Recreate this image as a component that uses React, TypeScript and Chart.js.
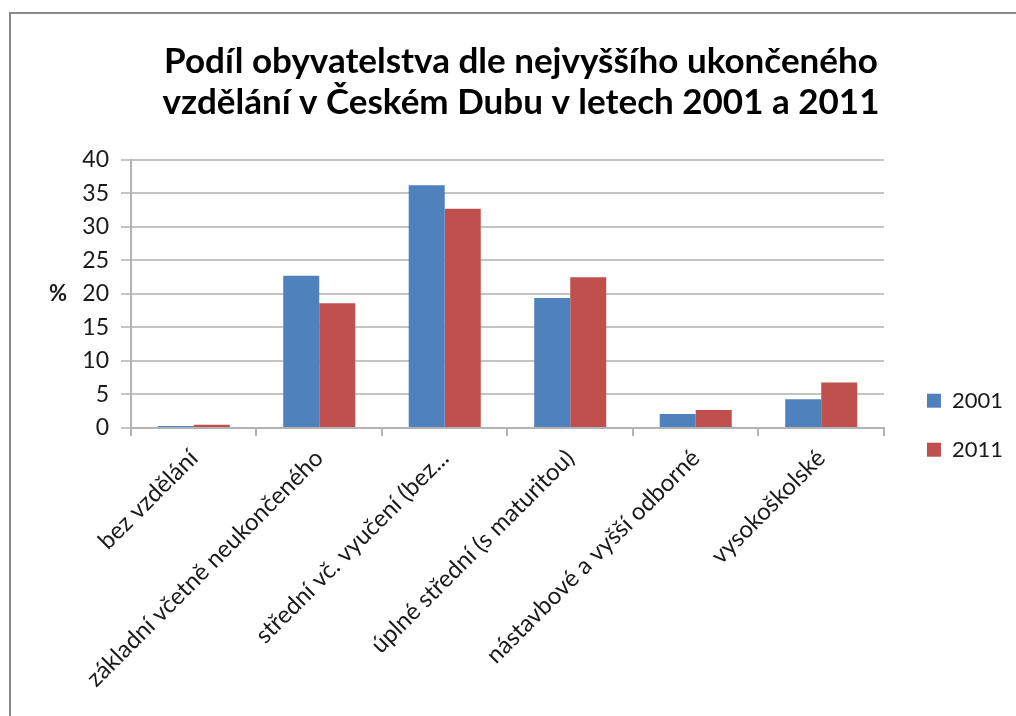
import React, { useEffect, useRef } from "react";
import { Chart, registerables } from "chart.js";

Chart.register(...registerables);

const categories: string[] = [
  "bez vzdělání",
  "základní včetně neukončeného",
  "střední vč. vyučení (bez...",
  "úplné střední (s maturitou)",
  "nástavbové a vyšší odborné",
  "vysokoškolské",
];
const values2001: number[] = [0.3, 22.7, 36.2, 19.4, 2.1, 4.3];
const values2011: number[] = [0.5, 18.6, 32.7, 22.5, 2.7, 6.8];
const seriesNames: string[] = ["2001", "2011"];
const titleLines: string[] = [
  "Podíl obyvatelstva dle nejvyššího ukončeného",
  "vzdělání v Českém Dubu v letech 2001 a 2011",
];
const yAxisLabel = "%";

const FONT = "Lato, 'Open Sans', sans-serif";
const PAD_L = 29;

export default function App() {
  const ref = useRef<HTMLCanvasElement | null>(null);

  useEffect(() => {
    if (!ref.current) return;
    const framePlugin = {
      id: "frame",
      beforeDraw(chart: any) {
        const ctx = chart.ctx;
        ctx.save();
        ctx.fillStyle = "#ffffff";
        ctx.fillRect(0, 0, chart.width, chart.height);
        ctx.strokeStyle = "#8a8a8a";
        ctx.lineWidth = 2;
        ctx.beginPath();
        ctx.moveTo(10, chart.height);
        ctx.lineTo(10, 13);
        ctx.lineTo(chart.width, 13);
        ctx.stroke();
        ctx.restore();
      },
      afterDraw(chart: any) {
        const ctx = chart.ctx;
        const a = chart.chartArea;
        ctx.save();
        ctx.font = "bold 22px " + FONT;
        ctx.fillStyle = "#1a1a1a";
        ctx.textAlign = "center";
        ctx.textBaseline = "middle";
        ctx.fillText(yAxisLabel, 58, (a.top + a.bottom) / 2);
        ctx.restore();
      },
    };

    const chart = new Chart(ref.current, {
      type: "bar",
      data: {
        labels: categories,
        datasets: [
          {
            label: seriesNames[0],
            data: values2001,
            backgroundColor: "#4f81bd",
            borderWidth: 0,
          },
          {
            label: seriesNames[1],
            data: values2011,
            backgroundColor: "#c0504d",
            borderWidth: 0,
          },
        ],
      },
      options: {
        responsive: false,
        animation: false,
        layout: { padding: { left: PAD_L, right: 3, top: 0, bottom: 26 } },
        datasets: {
          bar: { categoryPercentage: 0.574, barPercentage: 1.0 },
        },
        plugins: {
          title: {
            display: true,
            text: titleLines,
            color: "#000000",
            font: { family: FONT, size: 35, weight: "bold", lineHeight: 1.17 },
            padding: { top: 41.5, bottom: 36.5 },
          },
          legend: {
            position: "right",
            title: {
              display: true,
              text: " ",
              font: { family: FONT, size: 12, lineHeight: 1.2 },
              padding: { top: 146, bottom: 0 },
            },
            labels: {
              boxWidth: 14,
              boxHeight: 14,
              padding: 27,
              color: "#1a1a1a",
              font: { family: FONT, size: 22 },
            },
          },
          tooltip: { enabled: false },
        },
        scales: {
          x: {
            grid: {
              display: true,
              offset: true,
              drawOnChartArea: false,
              drawTicks: true,
              tickLength: 8,
              color: "#b3b3b3",
              lineWidth: 2,
            },
            border: { display: true, color: "#b3b3b3", width: 2 },
            ticks: {
              autoSkip: false,
              minRotation: 45,
              maxRotation: 45,
              padding: 8,
              color: "#1a1a1a",
              font: { family: FONT, size: 24 },
            },
            afterFit: (s: any) => {
              s.height = 262;
            },
          },
          y: {
            min: 0,
            max: 40,
            ticks: {
              stepSize: 5,
              padding: 12,
              color: "#1a1a1a",
              font: { family: FONT, size: 23 },
            },
            grid: {
              color: "#c4c4c4",
              lineWidth: 2,
              tickLength: 10,
            },
            border: { display: true, color: "#b3b3b3", width: 2 },
            afterFit: (s: any) => {
              s.width = 131 - PAD_L;
            },
          },
          y2: {
            position: "right",
            display: true,
            grid: { display: false },
            border: { display: false },
            ticks: { display: false },
            afterFit: (s: any) => {
              s.width = 16;
            },
          },
        },
      },
      plugins: [framePlugin],
    } as any);
    return () => chart.destroy();
  }, []);

  return (
    <div style={{ position: "fixed", left: 0, top: 0, width: 1016, height: 716, background: "#fff" }}>
      <canvas ref={ref} width={1016} height={716} style={{ width: 1016, height: 716, display: "block" }} />
    </div>
  );
}
